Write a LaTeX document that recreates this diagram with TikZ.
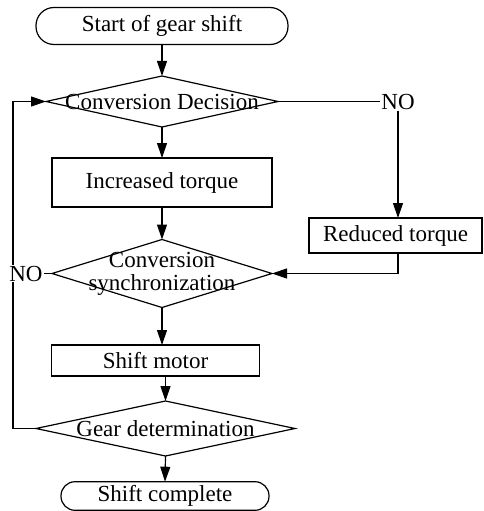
\documentclass[tikz,border=0pt]{standalone}
\usepackage{fontspec}
\setmainfont{Liberation Serif}
\usetikzlibrary{shapes.geometric,arrows.meta}

\begin{document}
\begin{tikzpicture}[x=1pt,y=-1pt,line width=1.2pt,
	font=\fontsize{23}{23}\selectfont,
	>={Triangle[length=15pt,width=10pt]},
	terminal/.style={draw,inner sep=0pt,outer sep=0pt},
	process/.style={draw,inner sep=0pt,outer sep=0pt},
	decision/.style={draw,diamond,inner sep=0pt,outer sep=0pt},
	answer/.style={fill=white,inner sep=1pt}]
	\useasboundingbox (0,0) rectangle (483,511);
	\node[terminal,rounded corners=18pt,minimum width=252pt,minimum height=37pt]
		(start) at (162,26) {Start of gear shift};
	\node[decision,minimum width=232pt,minimum height=51pt,
		label=center:{Conversion Decision}] (dec) at (162,101.5) {};
	\node[process,minimum width=220pt,minimum height=49pt]
		(inc) at (162,182.5) {Increased torque};
	\node[decision,minimum width=220pt,minimum height=68pt,
		label={[align=center]center:Conversion\\synchronization}] (sync) at (162,273.5) {};
	\node[process,minimum width=173pt,minimum height=35pt]
		(red) at (395.5,235.5) {Reduced torque};
	\node[process,minimum width=208pt,minimum height=31pt]
		(motor) at (155.5,360.5) {Shift motor};
	\node[decision,minimum width=259pt,minimum height=55pt,
		label=center:{Gear determination}] (gear) at (165.5,428.5) {};
	\node[terminal,rounded corners=14pt,minimum width=208pt,minimum height=28.6pt]
		(done) at (165,496) {Shift complete};
	\coordinate (loop) at (13,428.5);
	\draw[->] (start.south) -- (dec.north);
	\draw[->] (dec.south) -- (inc.north);
	\draw[->] (inc.south) -- (sync.north);
	\draw[->] (sync.south) -- (sync.south |- motor.north);
	\draw[->] (gear.north |- motor.south) -- (gear.north);
	\draw[->] (gear.south) -- (done.north);
	\draw[->] (gear.west) -- (loop) |- (dec.west);
	\node[answer] (no1) at (398,101.5) {NO};
	\node[answer] (no2) at (26,273.5) {NO};
	\draw (dec.east) -- (no1.west);
	\draw[->] (no1.south) -- (no1.south |- red.north);
	\draw[->] (no1 |- red.south) |- (sync.east);
	\draw (no2.east) -- (sync.west);
\end{tikzpicture}
\end{document}
